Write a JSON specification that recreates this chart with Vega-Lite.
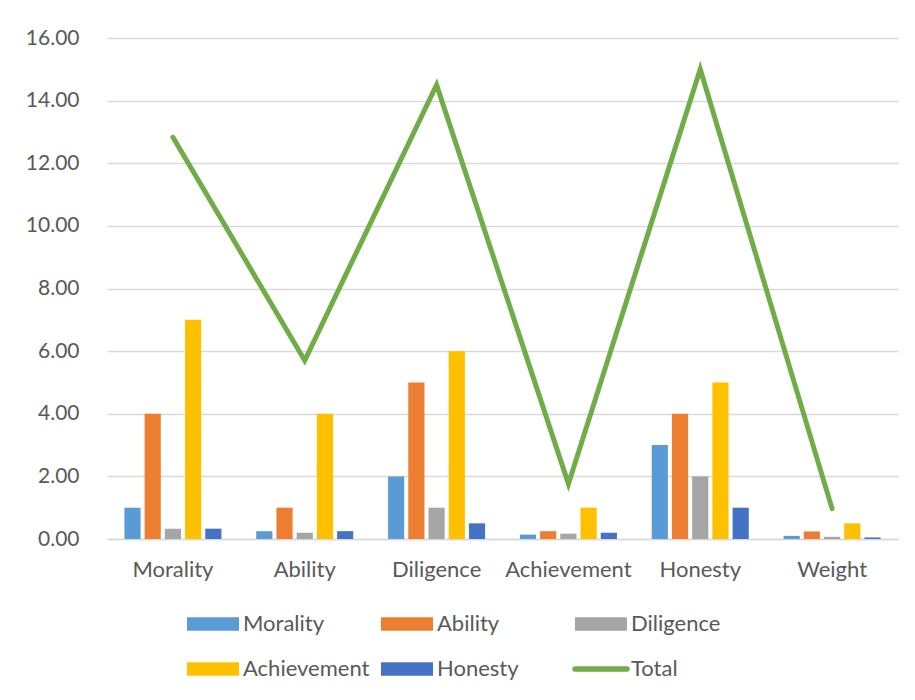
{
  "$schema": "https://vega.github.io/schema/vega-lite/v6.json",
  "width": 791,
  "height": 501,
  "autosize": {"type": "none"},
  "padding": {"left": 107, "top": 38, "right": 17, "bottom": 161},
  "background": "white",
  "data": {
    "values": [
      {"cat": "Morality", "series": "Morality", "value": 1},
      {"cat": "Morality", "series": "Ability", "value": 4},
      {"cat": "Morality", "series": "Diligence", "value": 0.33},
      {"cat": "Morality", "series": "Achievement", "value": 7},
      {"cat": "Morality", "series": "Honesty", "value": 0.33},
      {"cat": "Morality", "series": "Total", "value": 12.83},
      {"cat": "Ability", "series": "Morality", "value": 0.25},
      {"cat": "Ability", "series": "Ability", "value": 1},
      {"cat": "Ability", "series": "Diligence", "value": 0.2},
      {"cat": "Ability", "series": "Achievement", "value": 4},
      {"cat": "Ability", "series": "Honesty", "value": 0.25},
      {"cat": "Ability", "series": "Total", "value": 5.7},
      {"cat": "Diligence", "series": "Morality", "value": 2},
      {"cat": "Diligence", "series": "Ability", "value": 5},
      {"cat": "Diligence", "series": "Diligence", "value": 1},
      {"cat": "Diligence", "series": "Achievement", "value": 6},
      {"cat": "Diligence", "series": "Honesty", "value": 0.5},
      {"cat": "Diligence", "series": "Total", "value": 14.5},
      {"cat": "Achievement", "series": "Morality", "value": 0.14},
      {"cat": "Achievement", "series": "Ability", "value": 0.25},
      {"cat": "Achievement", "series": "Diligence", "value": 0.17},
      {"cat": "Achievement", "series": "Achievement", "value": 1},
      {"cat": "Achievement", "series": "Honesty", "value": 0.2},
      {"cat": "Achievement", "series": "Total", "value": 1.76},
      {"cat": "Honesty", "series": "Morality", "value": 3},
      {"cat": "Honesty", "series": "Ability", "value": 4},
      {"cat": "Honesty", "series": "Diligence", "value": 2},
      {"cat": "Honesty", "series": "Achievement", "value": 5},
      {"cat": "Honesty", "series": "Honesty", "value": 1},
      {"cat": "Honesty", "series": "Total", "value": 15},
      {"cat": "Weight", "series": "Morality", "value": 0.1},
      {"cat": "Weight", "series": "Ability", "value": 0.24},
      {"cat": "Weight", "series": "Diligence", "value": 0.07},
      {"cat": "Weight", "series": "Achievement", "value": 0.5},
      {"cat": "Weight", "series": "Honesty", "value": 0.05},
      {"cat": "Weight", "series": "Total", "value": 0.97}
    ]
  },
  "encoding": {
    "x": {
      "field": "cat",
      "type": "nominal",
      "sort": ["Morality", "Ability", "Diligence", "Achievement", "Honesty", "Weight"],
      "scale": {"paddingInner": 0.264, "paddingOuter": 0.132},
      "axis": {
        "title": null,
        "labelAngle": 0,
        "labelFont": "Lato",
        "labelFontSize": 22,
        "labelColor": "#595959",
        "labelPadding": 20,
        "ticks": false,
        "domainColor": "#D9D9D9",
        "domainWidth": 1.5
      }
    },
    "y": {
      "field": "value",
      "type": "quantitative",
      "scale": {"domain": [0, 16]},
      "axis": {
        "title": null,
        "values": [0, 2, 4, 6, 8, 10, 12, 14, 16],
        "format": ".2f",
        "labelFont": "Lato",
        "labelFontSize": 21,
        "labelColor": "#595959",
        "labelPadding": 28,
        "ticks": false,
        "domain": false,
        "gridColor": "#D9D9D9",
        "gridWidth": 1.3
      }
    },
    "color": {
      "field": "series",
      "type": "nominal",
      "scale": {
        "domain": ["Morality", "Ability", "Diligence", "Achievement", "Honesty", "Total"],
        "range": ["#5B9BD5", "#ED7D31", "#A5A5A5", "#FFC000", "#4472C4", "#70AD47"]
      },
      "legend": {
        "title": null,
        "orient": "none",
        "direction": "horizontal",
        "gridAlign": "all",
        "legendX": 95,
        "legendY": 575,
        "columns": 3,
        "symbolType": "M-1,-0.256H1V0.256H-1Z",
        "symbolSize": 2704,
        "symbolStrokeWidth": 0,
        "symbolOpacity": 1,
        "labelFont": "Lato",
        "labelFontSize": 22,
        "labelColor": "#595959",
        "labelOffset": 19,
        "columnPadding": 0,
        "rowPadding": 23,
        "encode": {
          "symbols": {
            "update": {
              "shape": {"signal": "datum.value === 'Total' ? 'M-1,0H1' : 'M-1,-0.256H1V0.256H-1Z'"},
              "strokeWidth": {"signal": "datum.value === 'Total' ? 5.5 : 0"},
              "stroke": {"scale": "color", "field": "value"},
              "strokeCap": {"value": "round"}
            }
          }
        }
      }
    }
  },
  "layer": [
    {
      "transform": [{"filter": "datum.series !== 'Total'"}],
      "mark": {"type": "bar"},
      "encoding": {
        "xOffset": {
          "field": "series",
          "type": "nominal",
          "sort": ["Morality", "Ability", "Diligence", "Achievement", "Honesty"],
          "scale": {"paddingInner": 0.2, "paddingOuter": 0}
        }
      }
    },
    {
      "transform": [{"filter": "datum.series === 'Total'"}],
      "mark": {"type": "line", "strokeWidth": 5, "strokeCap": "round", "strokeJoin": "miter"},
      "encoding": {}
    }
  ],
  "config": {"view": {"stroke": null}}
}
